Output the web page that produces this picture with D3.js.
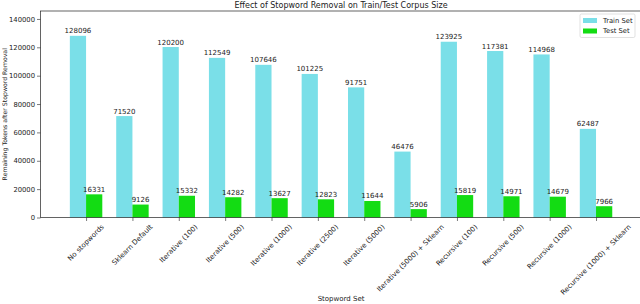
<!DOCTYPE html>
<html>
<head>
<meta charset="utf-8">
<script src="https://cdn.jsdelivr.net/npm/d3@7"></script>
<style>
  body { margin: 0; background: #fff; }
  svg { display: block; font-family: "DejaVu Sans", sans-serif; }
</style>
</head>
<body>
<div id="chart"></div>
<script>
// data
var categories = ["No stopwords", "Sklearn Default", "Iterative (100)", "Iterative (500)", "Iterative (1000)",
  "Iterative (2500)", "Iterative (5000)", "Iterative (5000) + Sklearn", "Recursive (100)", "Recursive (500)",
  "Recursive (1000)", "Recursive (1000) + Sklearn"]
var trainSizes = [128096, 71520, 120200, 112549, 107646, 101225, 91751, 46476, 123925, 117381, 114968, 62487]
var testSizes = [16331, 9126, 15332, 14282, 13627, 12823, 11644, 5906, 15819, 14971, 14679, 7966]
var yTicks = [0, 20000, 40000, 60000, 80000, 100000, 120000, 140000]
var seriesNames = ["Train Set", "Test Set"]

var W = 640, H = 304
var plot = { left: 40.5, right: 641.6, top: 11, bottom: 217.5 }
var trainColor = "#7adfe8", testColor = "#13dc13"

var svg = d3.select("#chart").append("svg").attr("width", W).attr("height", H)

var x = d3.scalePoint().domain(categories).range([plot.left, plot.right]).padding(0.983)
var step = x.step()
var barW = step * 0.35
var y = d3.scaleLinear().domain([0, 145600]).range([plot.bottom, plot.top])

// bars
var g_bars = svg.append("g")
g_bars.selectAll("rect.train").data(trainSizes).enter().append("rect")
  .attr("class", "train")
  .attr("x", function(d, i) { return x(categories[i]) - barW; })
  .attr("y", function(d) { return y(d); })
  .attr("width", barW)
  .attr("height", function(d) { return y(0) - y(d); })
  .attr("fill", trainColor)
g_bars.selectAll("rect.test").data(testSizes).enter().append("rect")
  .attr("class", "test")
  .attr("x", function(d, i) { return x(categories[i]); })
  .attr("y", function(d) { return y(d); })
  .attr("width", barW)
  .attr("height", function(d) { return y(0) - y(d); })
  .attr("fill", testColor)

// value labels
var g_vals = svg.append("g").attr("font-size", 7).attr("fill", "#222").attr("text-anchor", "middle")
g_vals.selectAll("text.tv").data(trainSizes).enter().append("text")
  .attr("x", function(d, i) { return x(categories[i]) - barW / 2; })
  .attr("y", function(d) { return y(d) - 2.5; })
  .text(function(d) { return d; })
g_vals.selectAll("text.sv").data(testSizes).enter().append("text")
  .attr("x", function(d, i) { return x(categories[i]) + barW / 2; })
  .attr("y", function(d) { return y(d) - 2.5; })
  .text(function(d) { return d; })

// y axis
var yAxis = d3.axisLeft(y).tickValues(yTicks).tickSize(3.5).tickPadding(2).tickFormat(d3.format("d"))
var gy = svg.append("g").attr("transform", "translate(" + plot.left + ",0)").call(yAxis)
gy.select(".domain").remove()
gy.selectAll("text").attr("font-size", 6.8).attr("font-family", "DejaVu Sans").attr("fill", "#222")
gy.selectAll("line").attr("stroke", "#222").attr("stroke-width", 0.6)

// x axis ticks
var xAxis = d3.axisBottom(x).tickSize(3.5).tickFormat("")
var gx = svg.append("g").attr("transform", "translate(0," + plot.bottom + ")").call(xAxis)
gx.select(".domain").remove()
gx.selectAll("line").attr("stroke", "#222").attr("stroke-width", 0.6)

// rotated tick labels, centred on tick like matplotlib rotation=45
var fs = 7
var g_xl = svg.append("g").attr("font-size", fs).attr("fill", "#222")
categories.forEach(function(c) {
  var t = g_xl.append("text").attr("text-anchor", "middle").attr("dominant-baseline", "central").text(c)
  var L = t.node().getComputedTextLength()
  var half = (L + fs) * Math.SQRT1_2 / 2
  t.attr("transform", "translate(" + x(c) + "," + (plot.bottom + 6 + half) + ") rotate(-45)")
})

// spines
svg.append("rect").attr("x", plot.left).attr("y", plot.top)
  .attr("width", plot.right - plot.left).attr("height", plot.bottom - plot.top)
  .attr("fill", "none").attr("stroke", "#222").attr("stroke-width", 0.7)

// title + axis labels
var cx = (plot.left + plot.right) / 2
svg.append("text").attr("x", cx).attr("y", 8).attr("text-anchor", "middle")
  .attr("font-size", 8).attr("fill", "#222").text("Effect of Stopword Removal on Train/Test Corpus Size")
svg.append("text").attr("x", cx).attr("y", 301).attr("text-anchor", "middle")
  .attr("font-size", 7).attr("fill", "#222").text("Stopword Set")
svg.append("text").attr("transform", "translate(7," + (plot.top + plot.bottom) / 2 + ") rotate(-90)")
  .attr("text-anchor", "middle").attr("font-size", 6.2).attr("fill", "#222")
  .text("Remaining Tokens after Stopword Removal")

// legend
var lg = svg.append("g").attr("transform", "translate(580,14)")
lg.append("rect").attr("width", 55).attr("height", 23.5).attr("rx", 1.5)
  .attr("fill", "#fff").attr("fill-opacity", 0.8).attr("stroke", "#ccc").attr("stroke-width", 0.6)
var items = lg.selectAll("g.item").data(seriesNames).enter().append("g")
  .attr("transform", function(d, i) { return "translate(3," + (4 + i * 10.5) + ")"; })
items.append("rect").attr("width", 14).attr("height", 5)
  .attr("fill", function(d, i) { return i === 0 ? trainColor : testColor; })
items.append("text").attr("x", 20).attr("y", 2.5).attr("dominant-baseline", "central")
  .attr("font-size", 6.8).attr("fill", "#222").text(function(d) { return d; })
</script>
</body>
</html>
